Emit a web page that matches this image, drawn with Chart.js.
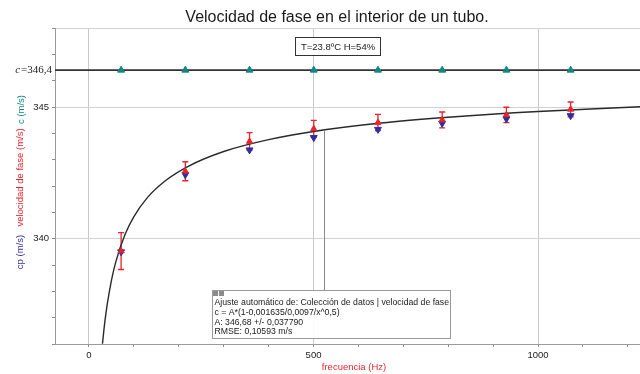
<!DOCTYPE html>
<html>
<head>
<meta charset="utf-8">
<script src="https://cdn.jsdelivr.net/npm/chart.js@4.4.1/dist/chart.umd.min.js"></script>
<style>
html,body{margin:0;padding:0;background:#fff;}
#wrap{width:640px;height:374px;position:relative;}
</style>
</head>
<body>
<div id="wrap"><canvas id="c" width="640" height="374"></canvas></div>
<script>
// ---- data ----
const FREQS = [71.5, 214.5, 357.5, 500.5, 643.5, 786.5, 929.5, 1072.5];      // Hz
const PHASE_VEL = [339.53, 342.56, 343.69, 344.17, 344.41, 344.51, 344.70, 344.91]; // m/s (red)
const PHASE_ERR = [0.70, 0.36, 0.34, 0.32, 0.31, 0.30, 0.29, 0.28];            // m/s
const CP_VEL = [339.50, 342.43, 343.37, 343.84, 344.15, 344.38, 344.55, 344.67];    // m/s (blue)
const C_VALUE = 346.4;                                                          // m/s (teal)
const C_SERIES = [346.4, 346.4, 346.4, 346.4, 346.4, 346.4, 346.4, 346.4];
const FIT_FREQ = [30, 35, 40, 50, 60, 80, 100, 130, 170, 220, 300, 400, 500, 650, 800, 1000, 1230];
const FIT_VALUES = [336.01, 336.80, 337.44, 338.42, 339.14, 340.15, 340.84, 341.56, 342.20, 342.74, 343.31, 343.76, 344.07, 344.39, 344.61, 344.83, 345.01];
const X_TICKS = [0, 100, 200, 300, 400, 500, 600, 700, 800, 900, 1000, 1100, 1200];
const X_LABELS = [0, 500, 1000];
const Y_TICKS = [336, 337, 338, 339, 340, 341, 342, 343, 344, 345, 346, 347, 348];
const Y_LABELS = [340, 345];
const X_MIN = -75.7, X_MAX = 1227, Y_MIN = 336, Y_MAX = 348;
const ANNOT_FREQ = 523, ANNOT_VALUE = 344.12;

const TITLE = 'Velocidad de fase en el interior de un tubo.';
const COND_TEXT = 'T=23.8ºC H=54%';
const FIT_LINES = [
  'Ajuste automático de: Colección de datos | velocidad de fase',
  'c = A*(1-0,001635/0,0097/x^0,5)',
  'A: 346,68 +/- 0,037790',
  'RMSE: 0,10593 m/s'
];

const FONT = '"Liberation Sans", Arial, sans-serif';
const RED = '#e8232d', BLUE = '#2f2f9e', TEAL = '#12887e';

const pts = (xs, ys) => xs.map((x, i) => ({x: x, y: ys[i]}));

const errorBars = {
  id: 'errorBars',
  beforeDatasetsDraw(chart) {
    const {ctx, scales: {x, y}, chartArea: a} = chart;
    ctx.save();
    ctx.beginPath(); ctx.rect(a.left, a.top, a.right - a.left, a.bottom - a.top); ctx.clip();
    ctx.strokeStyle = RED; ctx.lineWidth = 1.3;
    FREQS.forEach((f, i) => {
      const px = x.getPixelForValue(f);
      const top = y.getPixelForValue(PHASE_VEL[i] + PHASE_ERR[i]);
      const bot = y.getPixelForValue(PHASE_VEL[i] - PHASE_ERR[i]);
      ctx.beginPath();
      ctx.moveTo(px, top); ctx.lineTo(px, bot);
      ctx.moveTo(px - 3, top); ctx.lineTo(px + 3, top);
      ctx.moveTo(px - 3, bot); ctx.lineTo(px + 3, bot);
      ctx.stroke();
    });
    ctx.restore();
  }
};

const decorations = {
  id: 'decorations',
  afterDraw(chart) {
    const {ctx, scales: {x, y}} = chart;
    ctx.save();
    // title
    ctx.fillStyle = '#1a1a1a';
    ctx.font = '16px ' + FONT;
    ctx.textAlign = 'center'; ctx.textBaseline = 'middle';
    ctx.fillText(TITLE, 337, 18);

    // condition box
    ctx.strokeStyle = '#333'; ctx.lineWidth = 1;
    ctx.fillStyle = '#fff';
    ctx.fillRect(295.5, 37.5, 85, 18);
    ctx.strokeRect(295.5, 37.5, 85, 18);
    ctx.fillStyle = '#1a1a1a';
    ctx.font = '9.5px ' + FONT;
    ctx.fillText(COND_TEXT, 338, 47);

    // c = 346,4 label
    const cy = y.getPixelForValue(C_VALUE);
    ctx.textBaseline = 'middle';
    ctx.textAlign = 'right';
    ctx.font = '11px "Liberation Serif", "Times New Roman", serif';
    ctx.fillText('=346,4', 52, cy);
    const w = ctx.measureText('=346,4').width;
    ctx.font = 'italic 11px "Liberation Serif", "Times New Roman", serif';
    ctx.fillText('c', 52 - w - 1, cy);

    // y axis title (three colored parts, rotated)
    ctx.save();
    ctx.translate(20, 0);
    ctx.rotate(-Math.PI / 2);
    ctx.font = '9.5px ' + FONT;
    ctx.textAlign = 'center';
    ctx.fillStyle = BLUE;   ctx.fillText('cp (m/s)', -252, 0);
    ctx.fillStyle = RED;    ctx.fillText('velocidad de fase (m/s)', -177.5, 0);
    ctx.fillStyle = TEAL;   ctx.fillText('c (m/s)', -109.5, 1.5);
    ctx.restore();

    // x axis title
    ctx.fillStyle = RED;
    ctx.font = '9.5px ' + FONT;
    ctx.textAlign = 'center';
    ctx.fillText('frecuencia (Hz)', 354, 367);

    // connector from fit curve to annotation
    const ax = Math.round(x.getPixelForValue(ANNOT_FREQ)) + 0.5;
    ctx.strokeStyle = '#8a8a8a'; ctx.lineWidth = 1;
    ctx.beginPath();
    ctx.moveTo(ax, y.getPixelForValue(ANNOT_VALUE));
    ctx.lineTo(ax, 290);
    ctx.stroke();

    // fit annotation box
    ctx.fillStyle = 'rgba(255,255,255,0.92)';
    ctx.fillRect(212.5, 290.5, 238, 48);
    ctx.strokeStyle = '#9a9a9a';
    ctx.strokeRect(212.5, 290.5, 238, 48);
    ctx.fillStyle = '#8c8c8c';
    ctx.fillRect(213, 291, 5, 5);
    ctx.fillRect(219, 291, 5, 5);
    ctx.fillStyle = '#1a1a1a';
    ctx.font = '8.7px ' + FONT;
    ctx.textAlign = 'left';
    const ys = [303, 313, 322.5, 332];
    FIT_LINES.forEach((t, i) => ctx.fillText(t, 214.5, ys[i]));
    ctx.restore();
  }
};

new Chart(document.getElementById('c'), {
  type: 'scatter',
  data: {
    datasets: [
      { label: 'velocidad de fase', data: pts(FREQS, PHASE_VEL), pointStyle: 'triangle',
        pointRadius: 3.6, backgroundColor: RED, borderColor: RED, borderWidth: 1 },
      { label: 'cp', data: pts(FREQS, CP_VEL), pointStyle: 'triangle', rotation: 180,
        pointRadius: 4, backgroundColor: BLUE, borderColor: BLUE, borderWidth: 1 },
      { label: 'c', data: pts(FREQS, C_SERIES), pointStyle: 'triangle',
        pointRadius: 4, backgroundColor: TEAL, borderColor: TEAL, borderWidth: 1 },
      { label: 'ajuste', data: pts(FIT_FREQ, FIT_VALUES), showLine: true, pointRadius: 0,
        borderColor: '#2a2a2a', borderWidth: 1.4, cubicInterpolationMode: 'monotone' },
      { label: 'c line', data: pts([X_MIN, X_MAX], [C_VALUE, C_VALUE]), showLine: true, pointRadius: 0,
        borderColor: '#333', borderWidth: 1.6 }
    ]
  },
  options: {
    responsive: false,
    animation: false,
    events: [],
    layout: { autoPadding: false, padding: { top: 28, right: 0, left: 0, bottom: 0 } },
    plugins: { legend: { display: false }, tooltip: { enabled: false }, title: { display: false } },
    scales: {
      x: {
        type: 'linear', min: X_MIN, max: X_MAX,
        afterBuildTicks: s => { s.ticks = X_TICKS.map(v => ({value: v})); },
        afterFit: s => { s.height = 30; s.paddingLeft = 0; s.paddingRight = 0; },
        border: { color: '#9a9a9a', width: 1 },
        grid: {
          color: c => (c.tick && X_LABELS.includes(c.tick.value)) ? '#c9c9c9' : 'rgba(0,0,0,0)',
          tickColor: '#8a8a8a', tickLength: 3, lineWidth: 1
        },
        ticks: {
          autoSkip: false, maxRotation: 0, padding: 3, color: '#222',
          font: { family: FONT, size: 9.5 },
          callback: v => X_LABELS.includes(v) ? String(v) : ''
        }
      },
      y: {
        type: 'linear', min: Y_MIN, max: Y_MAX,
        afterBuildTicks: s => { s.ticks = Y_TICKS.map(v => ({value: v})); },
        afterFit: s => { s.width = 55; s.paddingTop = 0; s.paddingBottom = 0; },
        border: { color: '#9a9a9a', width: 1 },
        grid: {
          color: c => (c.tick && (Y_LABELS.includes(c.tick.value) || c.tick.value === Y_MAX)) ? '#d2d2d2' : 'rgba(0,0,0,0)',
          tickColor: '#8a8a8a', tickLength: 3, lineWidth: 1
        },
        ticks: {
          autoSkip: false, padding: 3, color: '#222',
          font: { family: FONT, size: 9.5 },
          callback: v => Y_LABELS.includes(v) ? String(v) : ''
        }
      }
    }
  },
  plugins: [errorBars, decorations]
});
</script>
</body>
</html>
